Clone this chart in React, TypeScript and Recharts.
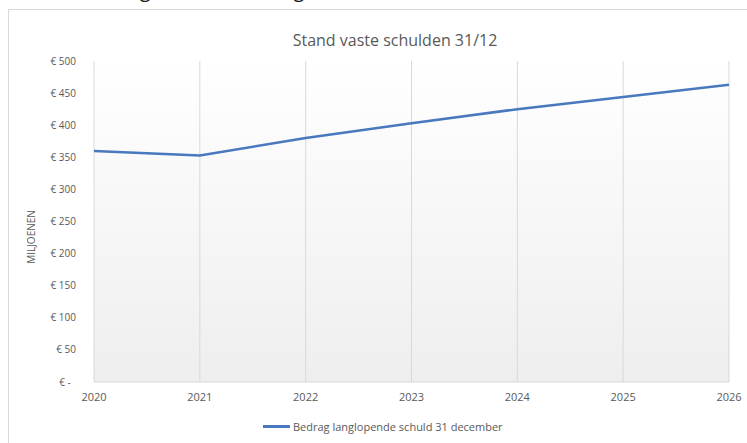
import React from "react";
import {
  LineChart,
  Line,
  XAxis,
  YAxis,
  CartesianGrid,
  Legend,
} from "recharts";

// Stand vaste schulden per 31/12 (x € 1 mln)
const years = ["2020", "2021", "2022", "2023", "2024", "2025", "2026"];
const debtValues = [360, 353, 380, 403, 425, 444, 463];
const yTicks = [0, 50, 100, 150, 200, 250, 300, 350, 400, 450, 500];

const seriesName = "Bedrag langlopende schuld 31 december";
const chartTitle = "Stand vaste schulden 31/12";
const pageHeading = "Grafiek 13: Lang-vreemd vermogen";

const data = years.map((year, i) => ({ year, debt: debtValues[i] }));

const FONT = "'Open Sans', 'Liberation Sans', sans-serif";
const TEXT_COLOR = "#595959";
const LINE_COLOR = "#4878bd";
const GRID_COLOR = "#d9d9d9";

const formatEuro = (v: number) => (v === 0 ? "€ -\u00a0\u00a0" : `€ ${v}`);

function LegendContent() {
  return (
    <div style={{ display: "flex", alignItems: "center", height: 33, fontFamily: FONT }}>
      <span
        style={{
          display: "inline-block",
          width: 27,
          height: 2.5,
          background: LINE_COLOR,
          marginRight: 3,
        }}
      />
      <span style={{ fontSize: 11, color: TEXT_COLOR, whiteSpace: "nowrap" }}>{seriesName}</span>
    </div>
  );
}

export default function App() {
  return (
    <div
      style={{
        position: "absolute",
        left: 0,
        top: 0,
        width: 747,
        height: 443,
        overflow: "hidden",
        background: "#fff",
        fontFamily: FONT,
      }}
    >
      {/* heading of the page, only its lower edge shows above the chart */}
      <div
        style={{
          position: "absolute",
          left: 0,
          top: -24,
          fontSize: 20,
          lineHeight: "27px",
          color: "#1a1a1a",
          whiteSpace: "nowrap",
        }}
      >
        {pageHeading}
      </div>
      <div
        style={{
          position: "absolute",
          left: 8,
          top: 9,
          width: 760,
          height: 460,
          borderTop: `1px solid ${GRID_COLOR}`,
          borderLeft: `1px solid ${GRID_COLOR}`,
        }}
      />
      <div
        style={{
          position: "absolute",
          left: 0,
          top: 29,
          width: 790,
          textAlign: "center",
          fontSize: 16,
          color: TEXT_COLOR,
          whiteSpace: "nowrap",
        }}
      >
        {chartTitle}
      </div>
      <div style={{ position: "absolute", left: 9, top: 10 }}>
        <LineChart
          width={738}
          height={433}
          data={data}
          margin={{ top: 51, right: 18, left: 0, bottom: 0 }}
        >
          <defs>
            <linearGradient id="plotBg" x1="0" y1="0" x2="0" y2="1">
              <stop offset="0%" stopColor="#ffffff" />
              <stop offset="100%" stopColor="#eeeeee" />
            </linearGradient>
          </defs>
          <CartesianGrid
            horizontal={false}
            vertical={true}
            stroke={GRID_COLOR}
            fill="url(#plotBg)"
            fillOpacity={1}
          />
          <XAxis
            dataKey="year"
            height={28}
            axisLine={{ stroke: GRID_COLOR }}
            tickLine={false}
            tickSize={6}
            tickMargin={5}
            tick={{ fill: TEXT_COLOR, fontSize: 11, fontFamily: FONT }}
            interval={0}
          />
          <YAxis
            width={85}
            domain={[0, 500]}
            ticks={yTicks}
            tickFormatter={formatEuro}
            axisLine={false}
            tickLine={false}
            tickSize={6}
            tickMargin={12}
            tick={{ fill: TEXT_COLOR, fontSize: 10, fontFamily: FONT }}
            label={{
              content: () => (
                <text
                  x={22}
                  y={227}
                  transform="rotate(-90 22 227)"
                  textAnchor="middle"
                  dominantBaseline="central"
                  fill={TEXT_COLOR}
                  fontSize={10}
                  fontFamily={FONT}
                >
                  MILJOENEN
                </text>
              ),
            }}
          />
          <Legend
            verticalAlign="bottom"
            height={33}
            content={() => <LegendContent />}
            wrapperStyle={{ left: 254, width: "auto", bottom: 0 }}
          />
          <Line
            type="linear"
            dataKey="debt"
            name={seriesName}
            stroke={LINE_COLOR}
            strokeWidth={2.5}
            dot={false}
            activeDot={false}
            isAnimationActive={false}
          />
        </LineChart>
      </div>
    </div>
  );
}
